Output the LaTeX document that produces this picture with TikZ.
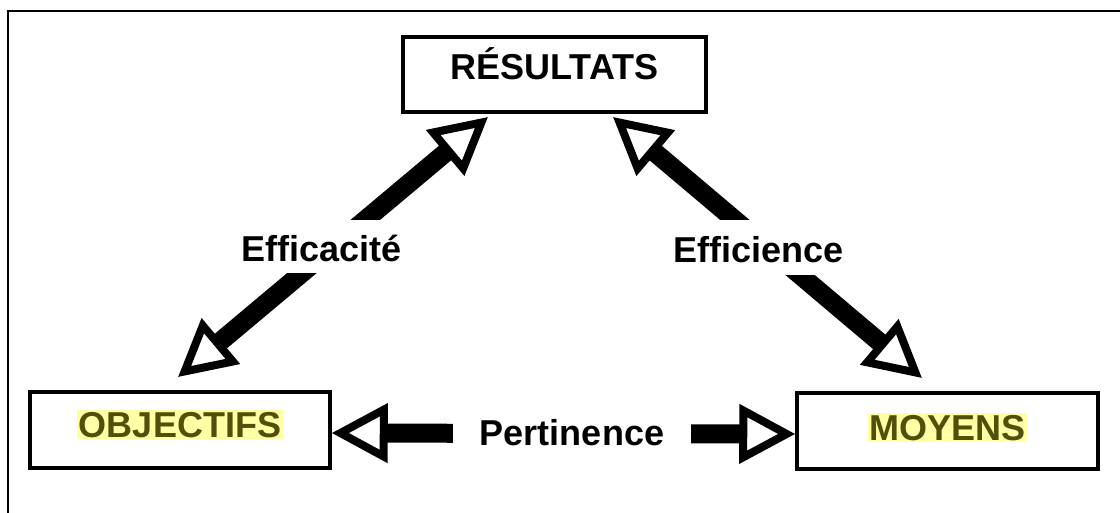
\documentclass[tikz,border=0pt]{standalone}
\usepackage{fontspec}
\setmainfont{Liberation Sans}
\usetikzlibrary{arrows.meta}
\definecolor{hl}{RGB}{255,255,165}
\definecolor{olivetext}{RGB}{80,80,8}
\tikzset{
  box/.style={draw=black, line width=3.5pt, fill=white, inner sep=0pt, font=\fontsize{36}{40}\selectfont\bfseries},
  lab/.style={fill=white, inner ysep=0pt, inner xsep=4pt, font=\fontsize{36}{40}\selectfont\bfseries},
  fat/.style={line width=19pt, draw=black, {Triangle[open, length=56pt, width=58pt, line width=8pt]}-{Triangle[open, length=56pt, width=58pt, line width=8pt]}},
  frame/.style={line width=2.5pt, draw=black}
}
\newcommand{\hlword}[1]{{\setlength{\fboxsep}{1.5pt}\colorbox{hl}{\textcolor{olivetext}{#1}}}}
\begin{document}
\begin{tikzpicture}[x=1pt,y=-1pt]
\useasboundingbox (0,0) rectangle (1120,513);
\fill[white] (0,0) rectangle (1120,513);
\coordinate (fa) at (8,513);
\coordinate (fb) at (8,11);
\coordinate (fc) at (1120,11);
\draw[frame] (fa) -- (fb) -- (fc);
% boxes
\node[box, minimum width=303pt, text height=43pt, text depth=32pt] (res) at (554.5,74.5) {RÉSULTATS};
\node[box, minimum width=300pt, text height=45pt, text depth=31pt] (obj) at (180,430) {\hlword{OBJECTIFS}};
\node[box, minimum width=301pt, text height=47pt, text depth=29pt] (moy) at (947.5,431) {\hlword{MOYENS}};
% arrow end points
\coordinate (e1) at (178,377);
\coordinate (e2) at (488,117);
\coordinate (f1) at (613,117);
\coordinate (f2) at (922,378);
% connectors
\draw[fat] (e1) -- (e2);
\draw[fat] (f1) -- (f2);
\draw[fat] ([yshift=-3pt]obj.east) -- ([yshift=-3pt]moy.west);
% labels
\node[lab, text height=42pt, text depth=11pt] (effic) at (321.5,246.5) {Efficacité};
\node[lab, text height=43pt, text depth=12pt] (effie) at (758.5,247.5) {Efficience};
\node[lab, inner xsep=0pt, minimum width=238pt, text height=28pt, text depth=10pt] (pert) at (572,436) {Pertinence};
\end{tikzpicture}
\end{document}
